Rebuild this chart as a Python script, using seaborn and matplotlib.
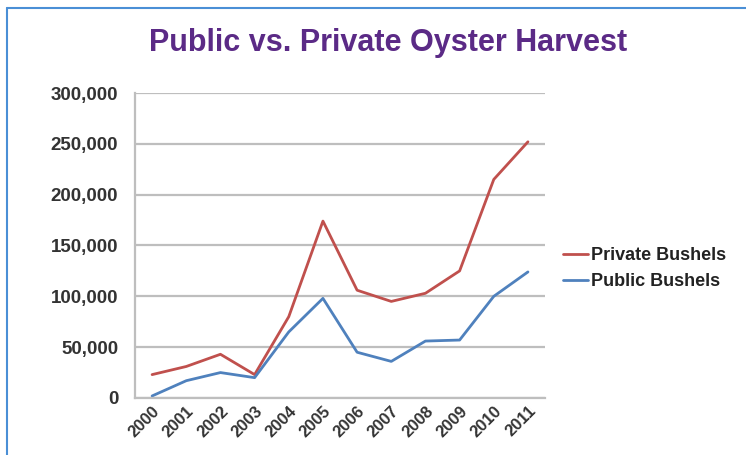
import matplotlib
matplotlib.use("Agg")
import matplotlib.pyplot as plt
import seaborn as sns
import pandas as pd
from matplotlib.lines import Line2D
from matplotlib.ticker import FuncFormatter, FixedLocator

years = ["2000", "2001", "2002", "2003", "2004", "2005", "2006", "2007", "2008", "2009", "2010", "2011"]
private_bushels = [23000, 31000, 43000, 23000, 80000, 174000, 106000, 95000, 103000, 125000, 215000, 252000]
public_bushels = [2000, 17000, 25000, 20000, 65000, 98000, 45000, 36000, 56000, 57000, 100000, 124000]
series_names = ["Private Bushels", "Public Bushels"]
y_ticks = [0, 50000, 100000, 150000, 200000, 250000, 300000]

rows = []
for i, y in enumerate(years):
    rows.append({"idx": i, "year": y, "series": series_names[0], "value": private_bushels[i]})
    rows.append({"idx": i, "year": y, "series": series_names[1], "value": public_bushels[i]})
df = pd.DataFrame(rows)

sns.set_theme(style="white")
plt.rcParams['font.family'] = ['Liberation Sans', 'DejaVu Sans']

fig = plt.figure(figsize=(7.46, 4.55), dpi=100)
ax = fig.add_axes([0.181, 0.1253, 0.5496, 0.6703])

sns.lineplot(data=df, x="idx", y="value", hue="series", ax=ax,
             palette={"Private Bushels": "#C0504D", "Public Bushels": "#4F81BD"},
             linewidth=2.0, legend=False)

ax.set_xlim(-0.5, len(years) - 0.5)
ax.set_ylim(0, 300000)
ax.set_yticks(y_ticks)
ax.yaxis.set_major_formatter(FuncFormatter(lambda v, p: "0" if v == 0 else f"{int(v):,}"))
ax.yaxis.grid(True, color="#BEBEBE", linewidth=1.6)
ax.set_axisbelow(True)

# category boundary ticks (major) and label positions (minor)
ax.xaxis.set_major_locator(FixedLocator([i - 0.5 for i in range(len(years) + 1)]))
ax.xaxis.set_major_formatter(FuncFormatter(lambda v, p: ""))
ax.xaxis.set_minor_locator(FixedLocator(list(range(len(years)))))
ax.set_xticklabels(years, minor=True)
ax.tick_params(axis="x", which="major", length=5, width=1.2, color="#BEBEBE", direction="out")
ax.tick_params(axis="x", which="minor", length=0, pad=4)
ax.tick_params(axis="y", length=4, width=1.2, color="#BEBEBE", pad=8)
for lab in ax.get_xticklabels(minor=True):
    lab.set_rotation(45)
    lab.set_ha("right")
    lab.set_rotation_mode("anchor")
    lab.set_fontsize(12)
    lab.set_fontweight("bold")
    lab.set_color("#333333")
for lab in ax.get_yticklabels():
    lab.set_fontsize(13.5)
    lab.set_fontweight("bold")
    lab.set_color("#333333")

for side in ["top", "right"]:
    ax.spines[side].set_visible(False)
for side in ["left", "bottom"]:
    ax.spines[side].set_color("#BEBEBE")
    ax.spines[side].set_linewidth(1.6)

ax.set_xlabel("")
ax.set_ylabel("")

handles = [Line2D([0], [0], color="#C0504D", lw=2), Line2D([0], [0], color="#4F81BD", lw=2)]
leg = fig.legend(handles, series_names, loc="center left", bbox_to_anchor=(563 / 746, 1 - 268.5 / 455),
                 frameon=False, handlelength=1.4, handletextpad=0.15, labelspacing=0.5,
                 borderpad=0, borderaxespad=0,
                 prop={"weight": "bold", "size": 13})
for t in leg.get_texts():
    t.set_color("#222222")

fig.text(0.52, 0.905, "Public vs. Private Oyster Harvest", ha="center", va="center",
         fontsize=22, fontweight="bold", color="#5B2A86",
         family=["Liberation Sans Narrow", "Liberation Sans", "DejaVu Sans"])

# outer blue frame (top and left)
fig.add_artist(Line2D([7 / 746, 1.0], [1 - 8 / 455, 1 - 8 / 455], transform=fig.transFigure,
                      color="#4A8FD6", lw=1.5))
fig.add_artist(Line2D([7 / 746, 7 / 746], [0, 1 - 8 / 455], transform=fig.transFigure,
                      color="#4A8FD6", lw=1.5))

fig.savefig("out.png", dpi=100)
